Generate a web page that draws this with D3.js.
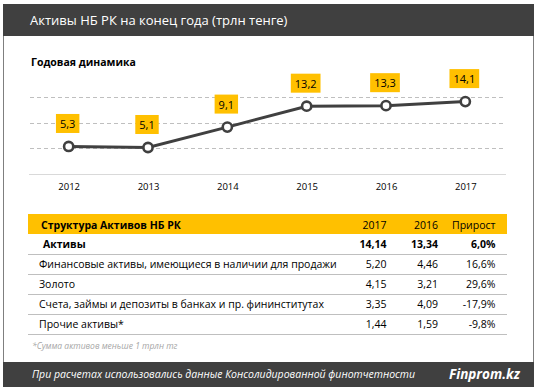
<!DOCTYPE html>
<html><head><meta charset="utf-8">
<script src="https://cdn.jsdelivr.net/npm/d3@7"></script>
<style>
html,body{margin:0;padding:0;background:#fff;}
svg{display:block;font-family:"Open Sans",sans-serif;}
</style></head>
<body>
<svg id="c" width="538" height="391"></svg>
<script>
const years = ["2012","2013","2014","2015","2016","2017"];
const assets = [5.3, 5.1, 9.1, 13.2, 13.3, 14.1];
const gridTicks = [5, 10, 15];

const rowNames = ["Активы", "Финансовые активы, имеющиеся в наличии для продажи", "Золото", "Счета, займы и депозиты в банках и пр. фининститутах", "Прочие активы*"];
const val2017 = [14.14, 5.20, 4.15, 3.35, 1.44];
const val2016 = [13.34, 4.46, 3.21, 4.09, 1.59];
const growth = [6.0, 16.6, 29.6, -17.9, -9.8];
const colHeaders = ["Структура Активов НБ РК", "2017", "2016", "Прирост"];

const loc = d3.formatLocale({decimal: ",", thousands: " ", grouping: [3], currency: ["", ""], minus: "-"});
const f1 = loc.format(".1f"), f2 = loc.format(".2f");

const svg = d3.select("#c");
const dark = "#404040", yellow = "#FFC000";

// frame
svg.append("rect").attr("x", 3.5).attr("y", 4.5).attr("width", 530).attr("height", 382).attr("fill", "#fff").attr("stroke", "#7f7f7f");
svg.append("rect").attr("x", 3).attr("y", 4).attr("width", 531).attr("height", 32).attr("fill", dark);
svg.append("rect").attr("x", 3).attr("y", 362).attr("width", 531).attr("height", 25).attr("fill", dark);

svg.append("text").attr("x", 30).attr("y", 25).attr("fill", "#fff").attr("font-size", 13)
  .text("Активы НБ РК на конец года (трлн тенге)");
svg.append("text").attr("x", 31).attr("y", 66).attr("fill", "#000").attr("font-size", 10.5).attr("font-weight", "bold")
  .text("Годовая  динамика");

// chart
const x = d3.scalePoint().domain(years).range([29, 505]).padding(0.5);
const y = d3.scaleLinear().domain([0, 15]).range([173.5, 97]);

const g = svg.append("g");
g.selectAll("line.grid").data(gridTicks).join("line").attr("class", "grid")
  .attr("x1", 30).attr("x2", 505).attr("y1", d => Math.round(y(d)) + 0.5).attr("y2", d => Math.round(y(d)) + 0.5)
  .attr("stroke", "#bfbfbf").attr("stroke-dasharray", "4,3");

const xAxis = g.append("g").attr("transform", `translate(0,${Math.round(y(0)) + 0.5})`)
  .call(d3.axisBottom(x).tickSize(0).tickPadding(9));
xAxis.select(".domain").attr("stroke", "#d9d9d9").attr("d", "M29,0H506");
xAxis.selectAll("text").attr("font-size", 9.5).attr("fill", "#000").attr("font-family", "Open Sans");

const line = d3.line().x((d, i) => x(years[i])).y(d => y(d));
g.append("path").datum(assets).attr("d", line).attr("fill", "none").attr("stroke", dark).attr("stroke-width", 3);
g.selectAll("circle").data(assets).join("circle")
  .attr("cx", (d, i) => x(years[i])).attr("cy", d => y(d)).attr("r", 4.6)
  .attr("fill", "#fff").attr("stroke", dark).attr("stroke-width", 2.6);

const lab = g.selectAll("g.lab").data(assets).join("g").attr("class", "lab")
  .attr("transform", (d, i) => `translate(${x(years[i]) - 1},${y(d) - 13.5})`);
lab.each(function(d) {
  const s = d3.select(this);
  const t = s.append("text").attr("text-anchor", "middle").attr("y", -5).attr("font-size", 11).attr("fill", "#000").text(f1(d));
  const w = t.node().getComputedTextLength() + 8;
  s.insert("rect", "text").attr("x", -w / 2).attr("y", -19).attr("width", w).attr("height", 19).attr("fill", yellow);
});

// table
const tx0 = 28, tx1 = 507;
const colRight = [386.5, 438, 495.5];
svg.append("rect").attr("x", tx0).attr("y", 214).attr("width", tx1 - tx0).attr("height", 20).attr("fill", yellow);
svg.append("text").attr("x", 41).attr("y", 228.5).attr("font-size", 10.5).attr("font-weight", "bold").text(colHeaders[0]);
colHeaders.slice(1).forEach((h, i) => {
  svg.append("text").attr("x", colRight[i]).attr("y", 228.5).attr("text-anchor", "end").attr("font-size", 10.5).text(h);
});
const rowY = d3.scaleLinear().domain([0, 1]).range([234, 254]);
rowNames.forEach((name, i) => {
  const base = rowY(i) + 14;
  const bold = i === 0 ? "bold" : "normal";
  svg.append("text").attr("x", i === 0 ? 43 : 39).attr("y", base).attr("font-size", 10.5).attr("font-weight", bold).text(name);
  [f2(val2017[i]), f2(val2016[i]), f1(growth[i]) + "%"].forEach((v, j) => {
    svg.append("text").attr("x", colRight[j]).attr("y", base).attr("text-anchor", "end").attr("font-size", 10.5).attr("font-weight", bold).text(v);
  });
  svg.append("line").attr("x1", tx0).attr("x2", tx1).attr("y1", rowY(i + 1) + 0.5).attr("y2", rowY(i + 1) + 0.5)
    .attr("stroke", "#bfbfbf").attr("stroke-width", 1);
});

svg.append("text").attr("x", 32).attr("y", 349).attr("font-size", 8.5).attr("font-style", "italic").attr("fill", "#a6a6a6")
  .text("*Сумма активов меньше 1 трлн тг");
svg.append("text").attr("x", 32).attr("y", 378).attr("font-size", 10.5).attr("font-style", "italic").attr("fill", "#fff")
  .text("При расчетах использовались данные Консолидированной  финотчетности");
svg.append("text").attr("x", 449).attr("y", 378.5).attr("font-size", 13.5).attr("font-style", "italic").attr("font-weight", "bold").attr("fill", "#fff")
  .text("Finprom.kz");
</script>
</body></html>
